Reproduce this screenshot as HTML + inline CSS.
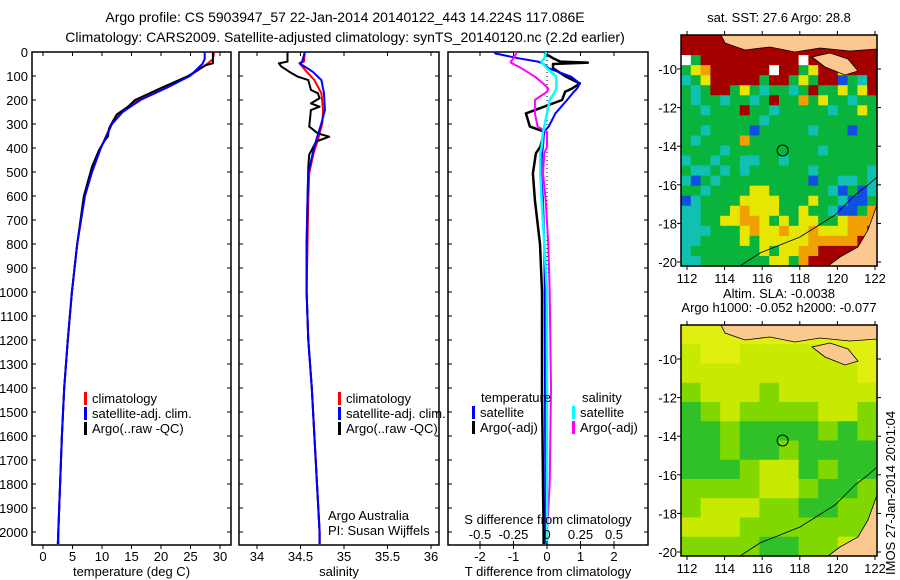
<!DOCTYPE html>
<html><head><meta charset="utf-8"><style>
body{margin:0;background:#fff}
svg{display:block;font-family:"Liberation Sans",sans-serif}
text{fill:#000}
</style></head><body>
<svg id="c" width="900" height="580" viewBox="0 0 900 580" xmlns="http://www.w3.org/2000/svg">
<text x="345" y="22" font-size="14" text-anchor="middle">Argo profile: CS 5903947_57 22-Jan-2014 20140122_443 14.224S 117.086E</text>
<text x="345" y="42" font-size="14" text-anchor="middle">Climatology: CARS2009. Satellite-adjusted climatology: synTS_20140120.nc (2.2d earlier)</text>
<g id="g"></g>
</svg>
<script>
const depthT = [0,40,47,55,100,150,200,228,260,300,318,352,367,408,478,603,800,1000,1200,1400,1600,1800,2000,2050];
const argoT  = [28.8,28.8,28.8,27.6,24.6,20.0,15.6,14.4,12.5,11.6,11.2,11.0,10.5,9.5,8.3,6.9,5.8,4.9,4.2,3.6,3.2,2.9,2.6,2.6];
const depthC = [0,30,50,100,150,200,250,300,400,500,600,800,1000,1200,1400,1600,1800,2000,2050];
const climT  = [29.0,28.8,27.8,24.8,20.5,16.2,13.3,11.6,9.8,8.3,7.1,5.8,4.9,4.2,3.6,3.2,2.9,2.6,2.5];
const satT   = [27.4,27.4,27.0,24.9,20.9,16.5,13.5,11.7,9.8,8.3,7.1,5.8,4.9,4.2,3.6,3.2,2.9,2.6,2.5];

const depthS = [0,40,47,61,82,103,117,158,172,193,214,228,242,311,339,353,373,428,478,617,800,1000,1200,1400,1600,1800,2000,2050];
const argoS  = [34.35,34.35,34.25,34.28,34.37,34.47,34.59,34.62,34.70,34.72,34.62,34.72,34.62,34.60,34.70,34.83,34.68,34.60,34.59,34.58,34.57,34.57,34.59,34.63,34.66,34.69,34.72,34.72];
const depthSC= [0,40,47,82,117,172,242,297,367,422,506,617,800,1000,1200,1400,1600,1800,2000,2050];
const climS  = [34.55,34.54,34.49,34.57,34.66,34.74,34.76,34.75,34.70,34.65,34.60,34.59,34.58,34.57,34.59,34.63,34.66,34.69,34.72,34.72];
const satS   = [34.55,34.52,34.49,34.64,34.74,34.77,34.78,34.74,34.68,34.64,34.59,34.58,34.57,34.57,34.59,34.63,34.66,34.69,34.72,34.72];

const depthD = [0,6,26,40,44,50,68,103,131,152,166,200,256,311,332,395,422,506,617,800,1000,1400,1800,2000,2050];
const dT_sat = [-1.55,-1.55,-0.87,-0.27,-0.2,-0.1,0.05,0.72,0.98,0.9,0.8,0.6,0.25,0.05,-0.09,-0.12,-0.15,-0.18,-0.12,-0.08,-0.07,-0.06,-0.05,-0.04,-0.04];
const dT_argo= [-0.06,-0.06,0.18,0.4,1.22,0.18,0.18,0.57,0.98,0.75,0.54,0.45,-0.63,-0.51,-0.08,-0.2,-0.33,-0.42,-0.36,-0.21,-0.15,-0.15,-0.12,-0.1,-0.1];
const dS_argo= [-0.23,-0.23,-0.25,-0.27,-0.27,-0.25,-0.19,-0.09,-0.03,0.01,0.0,-0.09,-0.09,-0.07,0.0,0.0,-0.02,-0.03,-0.01,0.01,0.02,0.03,0.02,0.0,0.0];
const dS_sat = [-0.01,-0.01,-0.02,-0.04,-0.04,-0.03,0.0,0.07,0.07,0.07,0.06,0.02,0.0,-0.02,-0.03,-0.04,-0.05,-0.05,-0.04,-0.02,0.0,0.0,0.0,0.0,0.0];

const depthTicks = [0,100,200,300,400,500,600,700,800,900,1000,1100,1200,1300,1400,1500,1600,1700,1800,1900,2000];
const tempTicks = [0,5,10,15,20,25,30];
const salTicks = [34,34.5,35,35.5,36];
const salTickLabels = ["34","34.5","35","35.5","36"];
const tdTicks = [-2,-1,0,1,2];
const sdTicks = [-0.5,-0.25,0,0.25,0.5];
const sdTickLabels = ["-0.5","-0.25","0","0.25","0.5"];
const lonTicks = [112,114,116,118,120,122];
const latTicks = [-10,-12,-14,-16,-18,-20];

const sstRows = [
"RRRRRRRRRRRRRRRRRRRR","RRRRRRRRRRRRRRRRRRRR","WGRRRRRRRRRRWRRRRRRR",
"GYORRRRRRWRRGYRRYRRR","CGYRRRRRGRRGYGRRBGCR","GCGRRGYGCGGCGRGGYGYR",
"GCGGCGGCGRGGOGYGGCGG","GGCGGGRGGCGGGGGCGGYG","GGGGGGGGCGGGGGGGGGGG",
"GGCGGGGBGGGGGCGGGBGG","GCGGGGOGGGGGGGGGGGGG","GGGGCGGGGGGGGGCGGGGG",
"CGGCGGCCGGCGGGGGGGGG","GCCGCGCGGGGGGCGGGGGC","CBGCGGGGGGGGGBGGCCGC",
"GGCGGGGYYGGGGGGCBGBC","BCGGGGYYYYGGGYGGCBBG","CCGGGYOYYYGGYGGCBBGO",
"CCGGYYOOYGYGYYGGYOOO","CCCGGGYOYYOYYOYYYOOR","CCGGGGYGYYYYYOOOOORR",
"CGGGGGGGYGYYOORRRRRR","CCGGGGGGGYYGORRRRRRR"];
const slaRows = [
"YYYYYYYYYY","yYYyyyyyYY","yyyyyyyyyY","gyyygyyyyy","Ggyggggyyg","GGgGGGGgGg",
"GGgGGgGGGG","GGGgyyGgGG","ggggyygGGg","gyyyggGGgg","yyyggggggg","ggggGGggyg"];

const NS="http://www.w3.org/2000/svg";
const G=document.getElementById('g');
function mk(tag,attrs,parent){const e=document.createElementNS(NS,tag);for(const k in attrs)e.setAttribute(k,attrs[k]);(parent||G).appendChild(e);return e;}
function txt(x,y,s,size,anchor,parent){const t=mk('text',{x:x,y:y,'font-size':size||12,'text-anchor':anchor||'middle'},parent);t.textContent=s;return t;}

const Y0=52,YB=545;
const yD=d=>Y0+d*0.24;
const xT=v=>43+v*5.9;
const xS=v=>257+(v-34)*87;
const xTD=v=>547+v*33.5;
const xSD=v=>547+v*134;

function panel(name,x0,x1,xt,ticks,labels,title,ylabels){
  const g=mk('g',{});
  
  
  mk('rect',{x:x0,y:Y0,width:x1-x0,height:YB-Y0,fill:'none',stroke:'#000','stroke-width':1.5},g);
  depthTicks.forEach(d=>{
    mk('line',{x1:x0,x2:x0+4,y1:yD(d),y2:yD(d),stroke:'#000'},g);
    mk('line',{x1:x1-4,x2:x1,y1:yD(d),y2:yD(d),stroke:'#000'},g);
    if(ylabels){const t=txt(x0-4,yD(d)+5,String(d),13,'end',g);}
  });
  ticks.forEach((v,i)=>{
    const x=xt(v);
    mk('line',{x1:x,x2:x,y1:YB,y2:YB+4,stroke:'#000'},g);
    mk('line',{x1:x,x2:x,y1:Y0,y2:Y0+4,stroke:'#000'},g);
    const t=txt(x,YB+16,labels[i],13,'middle',g);
    
    
  });
  const tt=txt((x0+x1)/2,YB+31,title,13,'middle',g);
  
  
  return g;
}
function line(name,depths,vals,xf,color,w){
  const pts=depths.map((d,i)=>xf(vals[i]).toFixed(1)+','+yD(d).toFixed(1)).join(' ');
  const p=mk('polyline',{points:pts,fill:'none',stroke:color,'stroke-width':w||2,'stroke-linejoin':'round'});
  
  
}
function legend(items,x,y){
  items.forEach((it,i)=>{
    mk('rect',{x:x,y:y+i*15-10,width:3,height:13,fill:it[1]});
    const t=txt(x+8,y+i*15+1,it[0],13,'start');
    
    
  });
}

panel('temperature-panel',32,231,xT,tempTicks,tempTicks.map(String),'temperature (deg C)',true);
line('temp-climatology',depthC,climT,xT,'#f00');
line('temp-argo',depthT,argoT,xT,'#000');
line('temp-satellite-adj',depthC,satT,xT,'#00f');
legend([['climatology','#f00'],['satellite-adj. clim.','#00f'],['Argo(..raw -QC)','#000']],84,402);

panel('salinity-panel',239,439,xS,salTicks,salTickLabels,'salinity',false);
line('sal-climatology',depthSC,climS,xS,'#f00');
line('sal-argo',depthS,argoS,xS,'#000');
line('sal-satellite-adj',depthSC,satS,xS,'#00f');
legend([['climatology','#f00'],['satellite-adj. clim.','#00f'],['Argo(..raw -QC)','#000']],338,402);
txt(328,520,'Argo Australia',13,'start');
txt(328,535,'PI: Susan Wijffels',13,'start');

panel('difference-panel',448,648,xTD,tdTicks,tdTicks.map(String),'T difference from climatology',false);
mk('line',{x1:547,x2:547,y1:Y0,y2:yD(1800),stroke:'#000','stroke-dasharray':'1,3'});
line('tdiff-argo',depthD,dT_argo,xTD,'#000',2.5);
line('tdiff-satellite',depthD,dT_sat,xTD,'#00f');
line('sdiff-argo',depthD,dS_argo,xSD,'#f0f');
line('sdiff-satellite',depthD,dS_sat,xSD,'#0ff',2.5);
txt(481,402,'temperature',13,'start');
txt(582,402,'salinity',13,'start');
legend([['satellite','#00f'],['Argo(-adj)','#000']],472,416);
legend([['satellite','#0ff'],['Argo(-adj)','#f0f']],572,416);
txt(548,524,'S difference from climatology',13,'middle');
sdTicks.forEach((v,i)=>{mk('line',{x1:xSD(v),x2:xSD(v),y1:YB-4,y2:YB,stroke:'#000'});txt(xSD(v),539,sdTickLabels[i],13,'middle');});

const sstCol={R:'#a40000',G:'#08b43c',C:'#10c0b0',Y:'#e6e600',O:'#f0a000',B:'#1050e0',W:'#ffffff'};
const slaCol={Y:'#e0ee10',y:'#c8ea00',g:'#80d800',G:'#30c028'};
function map(name,top,rows,cols,title1,title2){
  const L=681,R=877,T=top,H=231;
  const mg=mk('g',{});
  
  
  const nr=rows.length,nc=rows[0].length,cw=(R-L)/nc,ch=H/nr;
  rows.forEach((r,i)=>{for(let j=0;j<nc;j++){
    const c=mk('rect',{x:L+j*cw,y:T+i*ch,width:cw+0.6,height:ch+0.6,fill:cols[r[j]]||cols.G},mg);
    
    
  }});
  const latY=v=>T+34+(-v-10)*19.3;
  const lonX=v=>687+(v-112)*18.8;
  mk('path',{d:`M${L+40} ${T} L${R} ${T} L${R} ${T+14} L850 ${T+16} L820 ${T+13} L795 ${T+17} L770 ${T+12} L745 ${T+15} L725 ${T+8} Z`,fill:'#fbc890',stroke:'#000','stroke-width':0.8},mg);
  mk('path',{d:`M812 ${T+22} L830 ${T+18} L848 ${T+24} L858 ${T+36} L845 ${T+40} L825 ${T+32} Z`,fill:'#fbc890',stroke:'#000','stroke-width':0.8},mg);
  mk('path',{d:`M${R} ${T+170} L868 ${T+195} L858 ${T+212} L840 ${T+222} L828 ${T+H} L${R} ${T+H} Z`,fill:'#fbc890',stroke:'#000','stroke-width':0.8},mg);
  mk('polyline',{points:`740,${T+H} 760,${T+218} 800,${T+202} 835,${T+180} 855,${T+160} 868,${T+150} ${R},${T+142}`,fill:'none',stroke:'#000','stroke-width':0.8},mg);
  mk('circle',{cx:lonX(117.086),cy:latY(-14.224),r:5.5,fill:'none',stroke:'#000','stroke-width':1},mg);
  mk('rect',{x:L,y:T,width:R-L,height:H,fill:'none',stroke:'#000','stroke-width':1.5},mg);
  lonTicks.forEach(v=>{mk('line',{x1:lonX(v),x2:lonX(v),y1:T+H,y2:T+H+4,stroke:'#000'},mg);mk('line',{x1:lonX(v),x2:lonX(v),y1:T-4,y2:T,stroke:'#000'},mg);txt(lonX(v),T+H+17,String(v),13,'middle',mg);});
  latTicks.forEach(v=>{mk('line',{x1:L-4,x2:L,y1:latY(v),y2:latY(v),stroke:'#000'},mg);mk('line',{x1:R,x2:R+4,y1:latY(v),y2:latY(v),stroke:'#000'},mg);txt(L-4,latY(v)+5,String(v),13,'end',mg);});
  txt(779,T-13+(title2?-14:0),title1,13,'middle',mg);
  if(title2)txt(779,T-13,title2,13,'middle',mg);
}
map('sst-map',35,sstRows,sstCol,'sat. SST: 27.6 Argo: 28.8');
map('sla-map',325,slaRows,slaCol,'Altim. SLA: -0.0038','Argo h1000: -0.052 h2000: -0.077');
const v=txt(0,0,'IMOS 27-Jan-2014 20:01:04',13,'start');
v.setAttribute('transform','translate(895,575) rotate(-90)');


</script>
</body></html>
